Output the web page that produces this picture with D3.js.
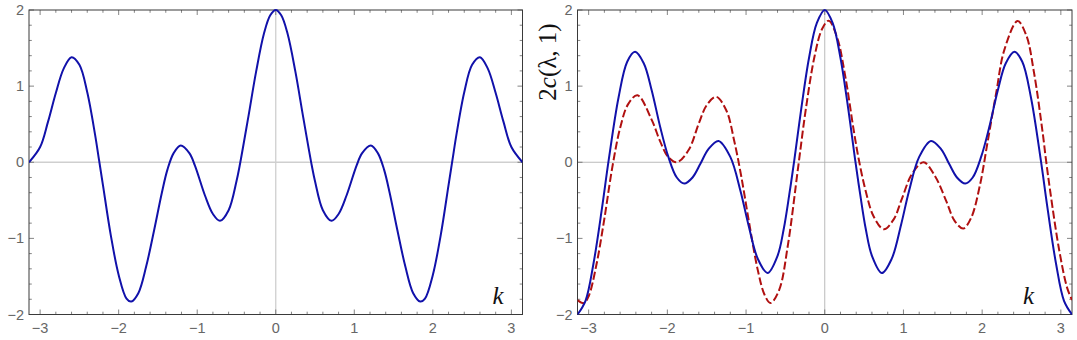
<!DOCTYPE html>
<html>
<head>
<meta charset="utf-8">
<script src="https://cdn.jsdelivr.net/npm/d3@7"></script>
<style>
  body { margin: 0; background: #fff; }
  .tick-label { font-family: "Liberation Sans", Arial, sans-serif; font-size: 14.5px; fill: #666; }
</style>
</head>
<body>
<div id="chart"></div>
<script>
// tick values
var xTicks = [-3, -2, -1, 0, 1, 2, 3];
var yTicks = [-2, -1, 0, 1, 2];

// left panel: single curve
var kLeft = [-3.1416, -3.0, -2.9, -2.8, -2.7, -2.6, -2.5, -2.4, -2.3, -2.25, -2.2, -2.1, -2.0, -1.9, -1.84, -1.75, -1.65, -1.55, -1.45, -1.38, -1.3, -1.21, -1.1, -1.03, -0.9, -0.8, -0.71, -0.6, -0.5, -0.46, -0.35, -0.25, -0.15, -0.07,
    0, 0.07, 0.15, 0.25, 0.35, 0.46, 0.5, 0.6, 0.71, 0.8, 0.9, 1.03, 1.1, 1.21, 1.3, 1.38, 1.45, 1.55, 1.65, 1.75, 1.84, 1.9, 2.0, 2.1, 2.2, 2.25, 2.3, 2.4, 2.5, 2.6, 2.7, 2.8, 2.9, 3.0, 3.1416];
var yLeft = [0, 0.20, 0.53, 0.91, 1.23, 1.38, 1.28, 0.92, 0.36, 0.03, -0.30, -0.96, -1.48, -1.79, -1.83, -1.72, -1.37, -0.90, -0.40, -0.10, 0.12, 0.22, 0.12, -0.04, -0.44, -0.68, -0.77, -0.63, -0.25, -0.05, 0.59, 1.19, 1.69, 1.93,
    2, 1.93, 1.69, 1.19, 0.59, -0.05, -0.25, -0.63, -0.77, -0.68, -0.44, -0.04, 0.12, 0.22, 0.12, -0.10, -0.40, -0.90, -1.37, -1.72, -1.83, -1.79, -1.48, -0.96, -0.30, 0.03, 0.36, 0.92, 1.28, 1.38, 1.23, 0.91, 0.53, 0.20, 0];

// right panel: solid blue curve
var kBlue = [-3.1416, -3.04, -2.94, -2.83, -2.745, -2.62, -2.51, -2.41, -2.3, -2.2, -2.09, -1.99, -1.88, -1.785, -1.68, -1.58, -1.48, -1.35, -1.2, -1.07, -0.97, -0.85, -0.726, -0.6, -0.52, -0.45, -0.385, -0.3, -0.2, -0.1,
    0, 0.1, 0.2, 0.3, 0.385, 0.45, 0.52, 0.6, 0.726, 0.85, 0.97, 1.07, 1.2, 1.35, 1.48, 1.58, 1.68, 1.785, 1.88, 1.99, 2.09, 2.2, 2.3, 2.41, 2.51, 2.62, 2.745, 2.83, 2.94, 3.04, 3.1416];
var yBlue = [-2.0, -1.82, -1.34, -0.60, 0.03, 0.85, 1.32, 1.45, 1.30, 0.95, 0.46, 0.08, -0.20, -0.28, -0.20, -0.02, 0.17, 0.28, 0.07, -0.38, -0.82, -1.27, -1.455, -1.23, -0.87, -0.42, 0.04, 0.69, 1.37, 1.83,
    2.0, 1.83, 1.37, 0.69, 0.04, -0.42, -0.87, -1.23, -1.455, -1.27, -0.82, -0.38, 0.07, 0.28, 0.17, -0.02, -0.20, -0.28, -0.20, 0.08, 0.46, 0.95, 1.30, 1.45, 1.32, 0.85, 0.03, -0.60, -1.34, -1.82, -2.0];

// right panel: dashed red curve
var kRed = [-3.1416, -3.06, -3.0, -2.9, -2.8, -2.7, -2.6, -2.5, -2.38, -2.2, -2.09, -1.99, -1.88, -1.73, -1.6, -1.5, -1.38, -1.25, -1.15, -1.06, -0.96, -0.85, -0.765, -0.69, -0.58, -0.47, -0.335, -0.24, -0.13, -0.034,
    0.05, 0.157, 0.262, 0.368, 0.43, 0.516, 0.62, 0.75, 0.876, 0.98, 1.11, 1.256, 1.4, 1.544, 1.65, 1.76, 1.86, 1.97, 2.07, 2.18, 2.28, 2.45, 2.56, 2.66, 2.77, 2.81, 2.87, 2.98, 3.08, 3.1416];
var yRed = [-1.81, -1.85, -1.76, -1.34, -0.74, -0.07, 0.45, 0.76, 0.88, 0.56, 0.27, 0.07, 0, 0.16, 0.51, 0.75, 0.86, 0.68, 0.28, -0.19, -0.80, -1.42, -1.74, -1.85, -1.68, -1.10, -0.04, 0.70, 1.39, 1.75,
    1.86, 1.64, 1.12, 0.42, 0.05, -0.36, -0.71, -0.88, -0.75, -0.48, -0.15, 0, -0.18, -0.51, -0.77, -0.87, -0.73, -0.31, 0.27, 0.92, 1.47, 1.855, 1.67, 1.17, 0.38, 0.04, -0.42, -1.16, -1.65, -1.81];

var W = 1077, H = 340;
var svg = d3.select('#chart').append('svg').attr('width', W).attr('height', H);

function zip(ks, ys) {
    return ks.map(function(k, i) { return {k: k, v: ys[i]}; });
}

function drawPanel(id, x0, x1, y0, y1, axisStyle) {
    var x = d3.scaleLinear().domain([-Math.PI, Math.PI]).range([x0, x1]);
    var y = d3.scaleLinear().domain([-2, 2]).range([y1, y0]);
    var g = svg.append('g').attr('class', 'panel-' + id);

    g.append('clipPath').attr('id', 'clip-' + id)
        .append('rect').attr('x', x0).attr('y', y0 - 1).attr('width', x1 - x0).attr('height', y1 - y0 + 2);

    // zero axes
    g.append('line').attr('x1', x0).attr('x2', x1).attr('y1', y(0)).attr('y2', y(0))
        .attr('stroke', axisStyle.color).attr('stroke-width', axisStyle.width);
    g.append('line').attr('x1', x(0)).attr('x2', x(0)).attr('y1', y0).attr('y2', y1)
        .attr('stroke', axisStyle.color).attr('stroke-width', axisStyle.width);

    // frame ticks (major + minor, on all sides, pointing inward)
    var xMinor = d3.range(-3.0, 3.01, 0.2).map(function(d) { return Math.round(d * 10) / 10; });
    var yMinor = d3.range(-2.0, 2.01, 0.2).map(function(d) { return Math.round(d * 10) / 10; });
    var tg = g.append('g').attr('stroke', '#666').attr('stroke-width', 0.8);
    xMinor.forEach(function(d) {
        var len = (Math.abs(d - Math.round(d)) < 1e-6) ? 5 : 2.8;
        tg.append('line').attr('x1', x(d)).attr('x2', x(d)).attr('y1', y1).attr('y2', y1 - len);
        tg.append('line').attr('x1', x(d)).attr('x2', x(d)).attr('y1', y0).attr('y2', y0 + len);
    });
    yMinor.forEach(function(d) {
        var len = (Math.abs(d - Math.round(d)) < 1e-6) ? 5 : 2.8;
        tg.append('line').attr('x1', x0).attr('x2', x0 + len).attr('y1', y(d)).attr('y2', y(d));
        tg.append('line').attr('x1', x1).attr('x2', x1 - len).attr('y1', y(d)).attr('y2', y(d));
    });

    // tick labels
    g.selectAll('.xlab').data(xTicks).enter().append('text')
        .attr('class', 'tick-label')
        .attr('x', function(d) { return x(d); })
        .attr('y', y1 + 18)
        .attr('text-anchor', 'middle')
        .text(function(d) { return d < 0 ? '\u2212' + Math.abs(d) : d; });
    g.selectAll('.ylab').data(yTicks).enter().append('text')
        .attr('class', 'tick-label')
        .attr('x', x0 - 5)
        .attr('y', function(d) { return y(d) + 5; })
        .attr('text-anchor', 'end')
        .text(function(d) { return d < 0 ? '\u2212' + Math.abs(d) : d; });

    // frame
    g.append('rect').attr('x', x0).attr('y', y0).attr('width', x1 - x0).attr('height', y1 - y0)
        .attr('fill', 'none').attr('stroke', '#3a3a3a').attr('stroke-width', 1);

    // k label
    g.append('text').attr('x', x1 - axisStyle.kOff).attr('y', y1 - 11)
        .attr('font-family', '"Liberation Serif", "DejaVu Serif", serif')
        .attr('font-style', 'italic').attr('font-size', 25).attr('fill', '#111')
        .text('k');

    return {g: g, x: x, y: y};
}

var line = function(p) {
    return d3.line()
        .x(function(d) { return p.x(d.k); })
        .y(function(d) { return p.y(d.v); })
        .curve(d3.curveCatmullRom.alpha(0.5));
};

// left panel
var p1 = drawPanel('a', 29, 522.5, 10, 314.5, {color: '#cfcfcf', width: 1.3, kOff: 30});
p1.g.append('path').datum(zip(kLeft, yLeft))
    .attr('clip-path', 'url(#clip-a)')
    .attr('fill', 'none').attr('stroke', '#1111aa').attr('stroke-width', 2)
    .attr('d', line(p1));

// right panel
var p2 = drawPanel('b', 577.5, 1072, 10, 314.5, {color: '#a8a8a8', width: 0.8, kOff: 49});
p2.g.append('path').datum(zip(kRed, yRed))
    .attr('clip-path', 'url(#clip-b)')
    .attr('fill', 'none').attr('stroke', '#b01010').attr('stroke-width', 2)
    .attr('stroke-dasharray', '8,3')
    .attr('d', line(p2));
p2.g.append('path').datum(zip(kBlue, yBlue))
    .attr('clip-path', 'url(#clip-b)')
    .attr('fill', 'none').attr('stroke', '#1111aa').attr('stroke-width', 2)
    .attr('d', line(p2));

// y label of right panel: 2c(λ, 1)
var ylab = svg.append('text')
    .attr('transform', 'translate(556,62) rotate(-90)')
    .attr('text-anchor', 'middle')
    .attr('font-family', '"Liberation Serif", "DejaVu Serif", serif')
    .attr('font-size', 25).attr('fill', '#111');
ylab.append('tspan').text('2');
ylab.append('tspan').attr('font-style', 'italic').text('c');
ylab.append('tspan').text('(\u03bb, 1)');
</script>
</body>
</html>
